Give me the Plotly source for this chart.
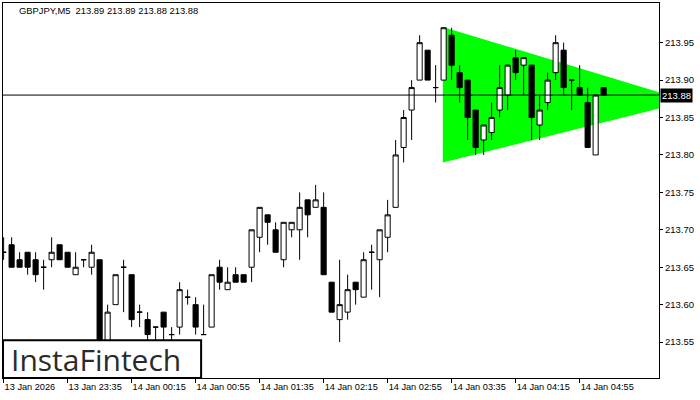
import pandas as pd
import plotly.graph_objects as go

symbol_title = "GBPJPY,M5  213.89 213.89 213.88 213.88"
start_time = "2026-01-13 22:55"

opens = [213.67, 213.68, 213.66, 213.67, 213.66, 213.65, 213.66, 213.68, 213.67, 213.64,
         213.66, 213.65, 213.66, 213.53, 213.60, 213.65, 213.64, 213.59, 213.58, 213.57,
         213.59, 213.56, 213.57, 213.61, 213.60, 213.56, 213.57, 213.65, 213.62, 213.64,
         213.64, 213.65, 213.69, 213.72, 213.70, 213.66, 213.70, 213.70, 213.74, 213.73,
         213.73, 213.63, 213.58, 213.59, 213.63, 213.61, 213.67, 213.66, 213.69, 213.73,
         213.81, 213.86, 213.90, 213.94, 213.89, 213.90, 213.96, 213.91, 213.90, 213.86,
         213.82, 213.83, 213.86, 213.88, 213.93, 213.92, 213.92, 213.84, 213.87, 213.91,
         213.94, 213.90, 213.89, 213.87, 213.80, 213.89]
highs = [213.69, 213.69, 213.67, 213.67, 213.67, 213.66, 213.69, 213.68, 213.67, 213.67,
         213.66, 213.68, 213.66, 213.60, 213.64, 213.66, 213.64, 213.60, 213.59, 213.57,
         213.59, 213.57, 213.63, 213.62, 213.61, 213.60, 213.64, 213.66, 213.65, 213.65,
         213.64, 213.70, 213.73, 213.72, 213.71, 213.71, 213.71, 213.75, 213.74, 213.76,
         213.75, 213.63, 213.66, 213.64, 213.63, 213.67, 213.68, 213.70, 213.74, 213.82,
         213.86, 213.90, 213.96, 213.94, 213.92, 213.97, 213.97, 213.92, 213.90, 213.86,
         213.84, 213.87, 213.92, 213.92, 213.94, 213.93, 213.92, 213.88, 213.91, 213.96,
         213.95, 213.90, 213.92, 213.89, 213.88, 213.89]
lows = [213.66, 213.65, 213.65, 213.64, 213.63, 213.62, 213.65, 213.66, 213.65, 213.64,
        213.65, 213.64, 213.52, 213.52, 213.60, 213.59, 213.57, 213.57, 213.55, 213.54,
        213.55, 213.55, 213.56, 213.60, 213.56, 213.56, 213.57, 213.62, 213.62, 213.63,
        213.63, 213.63, 213.67, 213.68, 213.67, 213.65, 213.69, 213.66, 213.69, 213.73,
        213.64, 213.59, 213.55, 213.58, 213.60, 213.61, 213.62, 213.61, 213.67, 213.73,
        213.79, 213.82, 213.90, 213.90, 213.87, 213.90, 213.90, 213.87, 213.82, 213.80,
        213.80, 213.82, 213.85, 213.86, 213.90, 213.88, 213.82, 213.82, 213.86, 213.90,
        213.88, 213.86, 213.88, 213.81, 213.80, 213.88]
closes = [213.67, 213.65, 213.65, 213.65, 213.64, 213.65, 213.67, 213.66, 213.65, 213.65,
          213.66, 213.67, 213.53, 213.59, 213.64, 213.65, 213.58, 213.59, 213.56, 213.57,
          213.57, 213.56, 213.62, 213.61, 213.57, 213.56, 213.64, 213.63, 213.63, 213.63,
          213.63, 213.70, 213.73, 213.71, 213.67, 213.71, 213.71, 213.73, 213.72, 213.74,
          213.64, 213.59, 213.60, 213.62, 213.62, 213.66, 213.67, 213.70, 213.72, 213.80,
          213.85, 213.89, 213.95, 213.90, 213.89, 213.97, 213.92, 213.89, 213.85, 213.81,
          213.84, 213.85, 213.89, 213.92, 213.91, 213.93, 213.85, 213.86, 213.90, 213.95,
          213.89, 213.90, 213.88, 213.81, 213.88, 213.88]

# triangle pattern (symmetric triangle)
pattern_times = ["2026-01-14 03:29:30", "2026-01-14 03:29:30", "2026-01-14 06:03"]
pattern_prices = [213.971, 213.790, 213.872]

current_price = 213.88

x_tick_times = ["2026-01-13 22:55", "2026-01-13 23:35", "2026-01-14 00:15", "2026-01-14 00:55",
                "2026-01-14 01:35", "2026-01-14 02:15", "2026-01-14 02:55", "2026-01-14 03:35",
                "2026-01-14 04:15", "2026-01-14 04:55"]
x_tick_labels = ["13 Jan 2026", "13 Jan 23:35", "14 Jan 00:15", "14 Jan 00:55", "14 Jan 01:35",
                 "14 Jan 02:15", "14 Jan 02:55", "14 Jan 03:35", "14 Jan 04:15", "14 Jan 04:55"]
y_tick_vals = [213.55, 213.60, 213.65, 213.70, 213.75, 213.80, 213.85, 213.90, 213.95]
y_tick_labels = ["213.55", "213.60", "213.65", "213.70", "213.75", "213.80", "213.85", "213.90", "213.95"]

times = pd.date_range(start=start_time, periods=len(opens), freq="5min")

fig = go.Figure()
fig.add_trace(go.Candlestick(
    x=times, open=opens, high=highs, low=lows, close=closes,
    increasing=dict(fillcolor="white", line=dict(color="black", width=1)),
    decreasing=dict(fillcolor="black", line=dict(color="black", width=1)),
    whiskerwidth=0, showlegend=False, hoverinfo="skip"))

# triangle as a shape beneath the candles
pts = [(t.replace(" ", "_"), p) for t, p in zip(pattern_times, pattern_prices)]
tri_path = "M " + " L ".join(f"{t},{p}" for t, p in pts) + " Z"
fig.add_shape(type="path", xref="x", yref="y", path=tri_path,
              fillcolor="#00FF00", line=dict(width=0), layer="below")

font_family = "Liberation Sans, Arial, sans-serif"
fig.update_layout(
    width=700, height=400,
    margin=dict(l=3, r=41, t=3, b=22, autoexpand=False),
    paper_bgcolor="white", plot_bgcolor="white",
    boxgap=0.2, boxgroupgap=0.2,
    showlegend=False,
    font=dict(family=font_family, size=9.5, color="black"),
    xaxis=dict(
        range=["2026-01-13 22:54:37", "2026-01-14 05:44:36"],
        rangeslider=dict(visible=False),
        tickvals=x_tick_times, ticktext=x_tick_labels,
        ticks="outside", ticklen=4, tickcolor="black", tickangle=0,
        ticklabelposition="outside right",
        showgrid=False, zeroline=False, automargin=False,
        showline=True, linecolor="black", linewidth=1, mirror=True,
        tickfont=dict(size=9.2, color="black"),
    ),
    yaxis=dict(
        range=[213.502, 214.003], side="right",
        tickvals=y_tick_vals, ticktext=y_tick_labels,
        ticks="outside", ticklen=3, tickcolor="black",
        showgrid=False, zeroline=False, automargin=False,
        showline=True, linecolor="black", linewidth=1, mirror=True,
        tickfont=dict(size=9.5, color="black"),
    ),
)

fig.add_shape(type="line", xref="paper", yref="y", x0=0, x1=1,
              y0=current_price, y1=current_price, line=dict(color="black", width=1))

fig.add_annotation(xref="paper", yref="y", x=1, y=current_price, xanchor="left",
                   yanchor="middle", text=f"{current_price:.2f}", showarrow=False,
                   bgcolor="black", font=dict(color="white", size=9.5, family=font_family),
                   borderpad=1, xshift=1)

fig.add_annotation(xref="paper", yref="paper", x=0.021, y=0.979, xanchor="left",
                   yanchor="middle", text=symbol_title, showarrow=False,
                   font=dict(color="black", size=9.4, family=font_family))

# logo box
fig.add_shape(type="rect", xref="paper", yref="paper", x0=0, x1=0.302, y0=0, y1=0.101,
              fillcolor="white", line=dict(color="black", width=2), layer="above")
fig.add_annotation(xref="paper", yref="paper", x=0.142, y=0.05, xanchor="center",
                   yanchor="middle", text="InstaFintech", showarrow=False,
                   font=dict(color="#2a2a2a", size=30, family="Open Sans, sans-serif"))

fig.write_html("out.html", config={"displayModeBar": False},
               post_script="document.body.style.margin='0';document.body.style.overflow='hidden';")
